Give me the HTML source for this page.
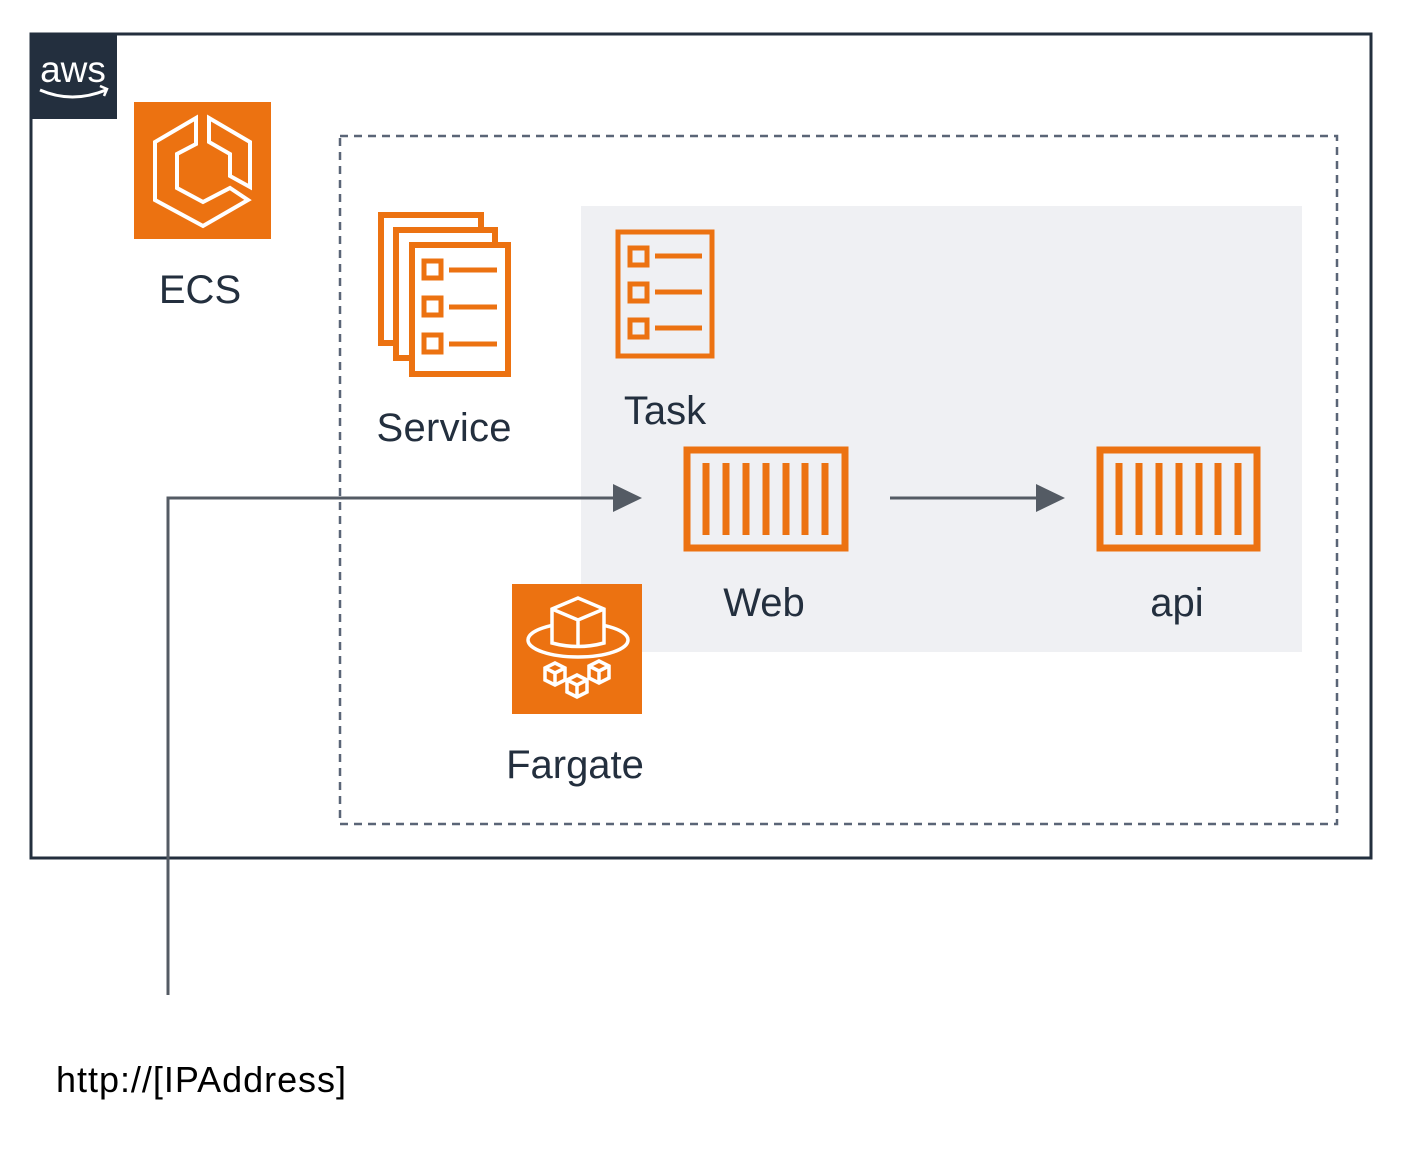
<!DOCTYPE html>
<html><head><style>html,body{margin:0;padding:0;background:#fff}svg{display:block}text{font-family:"Liberation Sans",Arial,sans-serif;fill:#232f3e}</style></head>
<body>
<svg width="1407" height="1153" viewBox="0 0 1407 1153" xmlns="http://www.w3.org/2000/svg">
<rect x="31" y="34" width="1340" height="824" fill="none" stroke="#232f3e" stroke-width="3"/>
<rect x="30" y="33" width="87" height="86" fill="#232f3e"/>
<text x="73" y="82" font-size="37" text-anchor="middle" style="fill:#fff">aws</text>
<path d="M40 90 Q72 104 106 90" fill="none" stroke="#fff" stroke-width="3"/>
<path d="M100 86 L107 89 L104 96" fill="none" stroke="#fff" stroke-width="2.5"/>
<rect x="134" y="102" width="137" height="137" fill="#ec7211"/>
<g fill="none" stroke="#fff" stroke-width="4" stroke-linejoin="miter">
<path d="M196 118 L155 142 L155 200 L203 226 L248 200 L230 188 L203 202 L177 188 L177 154 L196 144 Z"/>
<path d="M209 118 L250 142 L250 187 L230 176 L230 154 L209 142 Z"/>
</g>
<text x="200" y="303" font-size="40" text-anchor="middle">ECS</text>
<rect x="340" y="136" width="997" height="688" fill="none" stroke="#5a6577" stroke-width="2.5" stroke-dasharray="8,6"/>
<rect x="581" y="206" width="721" height="446" fill="#eff0f3"/>
<g fill="#fff" stroke="#ec7211" stroke-width="6">
<rect x="381" y="215" width="100" height="128"/>
<rect x="396" y="230" width="99" height="128"/>
<rect x="412" y="245" width="96" height="129"/>
</g>
<g fill="none" stroke="#ec7211" stroke-width="5">
<rect x="424" y="261" width="17" height="17"/><rect x="424" y="298" width="17" height="17"/><rect x="424" y="335" width="17" height="17"/>
<path d="M449 270 H497 M449 307 H497 M449 344 H497"/>
<rect x="618" y="232" width="94" height="124"/>
<rect x="630" y="248" width="17" height="17"/><rect x="630" y="284" width="17" height="17"/><rect x="630" y="320" width="17" height="17"/>
<path d="M655 256 H702 M655 292 H702 M655 328 H702"/>
</g>
<text x="665" y="424" font-size="40" text-anchor="middle">Task</text>
<text x="444" y="441" font-size="40" text-anchor="middle" textLength="135">Service</text>
<g fill="none" stroke="#ec7211">
<rect x="687" y="450" width="158" height="98" stroke-width="7"/>
<path d="M706 463V535M726 463V535M746 463V535M766 463V535M786 463V535M805 463V535M825 463V535" stroke-width="7"/>
<rect x="1100" y="450" width="157" height="98" stroke-width="7"/>
<path d="M1119 463V535M1139 463V535M1159 463V535M1179 463V535M1199 463V535M1218 463V535M1238 463V535" stroke-width="7"/>
</g>
<text x="764" y="616" font-size="40" text-anchor="middle">Web</text>
<text x="1177" y="616" font-size="40" text-anchor="middle">api</text>
<rect x="512" y="584" width="130" height="130" fill="#ec7211"/>
<g fill="none" stroke="#fff" stroke-width="3.5">
<ellipse cx="578" cy="640" rx="50" ry="17"/>
<path d="M552 609 L578 598 L604 609 L604 643 Q578 650 552 643 Z" fill="#ec7211"/>
<path d="M552 609 L578 620 L604 609 M578 620 V648"/>
<path d="M545 668 l10 -5 l10 5 v12 l-10 5 l-10 -5 Z M545 668 l10 5 l10 -5 M555 673 v12"/>
<path d="M589 666 l10 -5 l10 5 v12 l-10 5 l-10 -5 Z M589 666 l10 5 l10 -5 M599 671 v12"/>
<path d="M567 680 l10 -5 l10 5 v12 l-10 5 l-10 -5 Z M567 680 l10 5 l10 -5 M577 685 v12"/>
</g>
<text x="575" y="778" font-size="40" text-anchor="middle">Fargate</text>
<g stroke="#545b64" stroke-width="3" fill="none">
<path d="M168 995 V498 H616"/>
<path d="M890 498 H1038"/>
</g>
<path d="M613 484 L642 498 L613 512 Z" fill="#545b64"/>
<path d="M1036 484 L1065 498 L1036 512 Z" fill="#545b64"/>
<text x="56" y="1092" font-size="36" textLength="290" lengthAdjust="spacing" style="fill:#000">http://[IPAddress]</text>
</svg>
</body></html>
